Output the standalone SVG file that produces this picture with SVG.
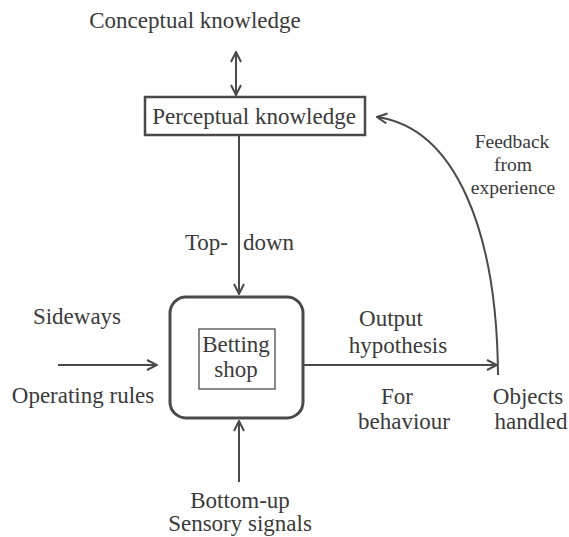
<svg xmlns="http://www.w3.org/2000/svg" width="569" height="537" viewBox="0 0 569 537">
<defs>
<marker id="ah" viewBox="0 0 12 12" refX="11" refY="6" markerWidth="12" markerHeight="12" markerUnits="userSpaceOnUse" orient="auto-start-reverse">
<path d="M1,1 L11,6 L1,11" fill="none" stroke="#4a4a4a" stroke-width="2"/>
</marker>
</defs>
<rect width="569" height="537" fill="#fff"/>
<g id="conceptual"><text font-family="Liberation Serif" font-size="23" fill="#3a3a3a" text-anchor="middle" x="195" y="28">Conceptual knowledge</text></g>
<g id="perceptual">
<rect x="145" y="97" width="220" height="38" fill="none" stroke="#4a4a4a" stroke-width="2.5"/>
<text font-family="Liberation Serif" font-size="23" fill="#3a3a3a" text-anchor="middle" x="254" y="124">Perceptual knowledge</text>
</g>
<g id="betting">
<rect x="170" y="297" width="133" height="121" rx="16" fill="none" stroke="#4a4a4a" stroke-width="3"/>
<rect x="199" y="329" width="76" height="60" fill="none" stroke="#4a4a4a" stroke-width="1.3"/>
<text font-family="Liberation Serif" font-size="23" fill="#3a3a3a" text-anchor="middle" x="236" y="352">Betting</text>
<text font-family="Liberation Serif" font-size="23" fill="#3a3a3a" text-anchor="middle" x="236" y="377">shop</text>
</g>
<g id="objects"><text font-family="Liberation Serif" font-size="23" fill="#3a3a3a" text-anchor="middle" x="528" y="404">Objects</text><text font-family="Liberation Serif" font-size="23" fill="#3a3a3a" text-anchor="middle" x="531" y="429">handled</text></g>
<g id="labels" fill="#3a3a3a" text-anchor="middle">
<text font-family="Liberation Serif" font-size="23" x="228" y="250" text-anchor="end">Top-</text>
<text font-family="Liberation Serif" font-size="23" x="243" y="250" text-anchor="start">down</text>
<text font-family="Liberation Serif" font-size="23" x="77" y="324">Sideways</text>
<text font-family="Liberation Serif" font-size="23" x="83" y="403">Operating rules</text>
<text font-family="Liberation Serif" font-size="23" x="391" y="326">Output</text>
<text font-family="Liberation Serif" font-size="23" x="398" y="353">hypothesis</text>
<text font-family="Liberation Serif" font-size="23" x="397" y="404">For</text>
<text font-family="Liberation Serif" font-size="23" x="404" y="429">behaviour</text>
<text font-family="Liberation Serif" font-size="23" x="240" y="508">Bottom-up</text>
<text font-family="Liberation Serif" font-size="23" x="240" y="531">Sensory signals</text>
<text font-family="Liberation Serif" font-size="19.5" x="512" y="148">Feedback</text>
<text font-family="Liberation Serif" font-size="19.5" x="513" y="171">from</text>
<text font-family="Liberation Serif" font-size="19.5" x="513" y="194">experience</text>
</g>
<g id="connectors" stroke="#4a4a4a" stroke-width="2" fill="none">
<line x1="236" y1="52" x2="236" y2="95" marker-start="url(#ah)" marker-end="url(#ah)"/>
<line x1="239" y1="135" x2="239" y2="294" marker-end="url(#ah)"/>
<line x1="58" y1="365" x2="157" y2="365" marker-end="url(#ah)"/>
<line x1="303" y1="365" x2="497" y2="365" marker-end="url(#ah)"/>
<line x1="239" y1="482" x2="239" y2="421" marker-end="url(#ah)"/>
<path d="M498,375 C497,230 455,128 377,117" marker-end="url(#ah)"/>
</g>
</svg>
